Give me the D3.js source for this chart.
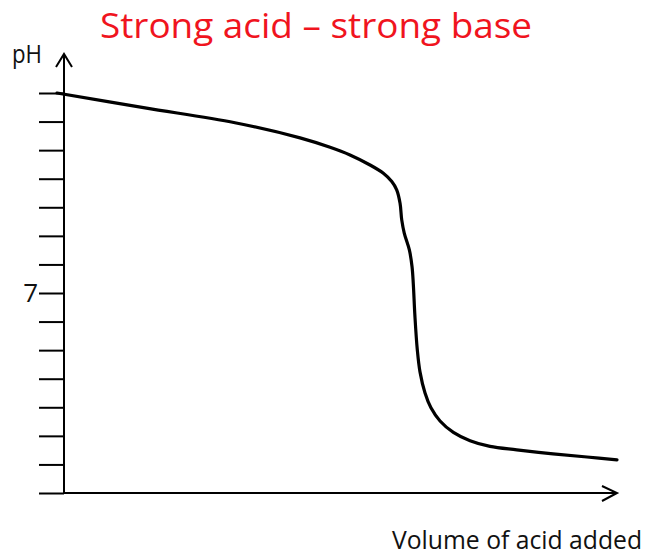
<!DOCTYPE html>
<html>
<head>
<meta charset="utf-8">
<script src="https://cdn.jsdelivr.net/npm/d3@7"></script>
<style>
  html, body { margin: 0; padding: 0; background: #fff; }
  text { font-family: "Open Sans", "Noto Sans", sans-serif; }
</style>
</head>
<body>
<div id="viz"><svg class="titration-svg"></svg></div>
<script>
'use strict'

// volume of acid added (arbitrary units) and the pH
const volumes = [0, 7.86, 15.89, 21.70, 24.38, 26.16, 27.95, 29.14, 29.89, 30.33, 30.63, 30.78, 31.01,
  31.46, 31.70, 31.81, 31.96, 32.17, 32.41, 32.86, 33.39, 34.20, 35.39, 36.88, 38.66, 41.05,
  44.29, 47.32, 50]
const phValues = [14.0, 13.48, 12.96, 12.43, 12.10, 11.83, 11.48, 11.19, 10.90, 10.61, 10.14, 9.56, 9.09,
  8.51, 7.92, 7.34, 6.17, 5.01, 4.24, 3.50, 2.98, 2.52, 2.12, 1.83, 1.63, 1.51,
  1.37, 1.26, 1.16]

// y ticks, one per pH unit, only 7 is labelled
const phTicks = d3.range(0, 15)
const labelledTicks = [7]

const titleText = 'Strong acid \u2013 strong base'
const yLabel = 'pH'
const xLabel = 'Volume of acid added'

/**
 * Draws a plain arrow head (two strokes) at the tip.
 */
function drawArrowHead (g, tipX, tipY, points) {
  g.append('path')
    .attr('d', d3.line()(points.map(p => [tipX + p[0], tipY + p[1]])))
    .attr('fill', 'none')
    .attr('stroke', '#000')
    .attr('stroke-width', 2)
}

(function (d3) {
  const width = 646
  const height = 556
  const axisX = 64

  const svg = d3.select('.titration-svg')
    .attr('width', width)
    .attr('height', height)

  const x = d3.scaleLinear().domain([0, 50]).range([57, 617])
  const y = d3.scaleLinear().domain([0, 14]).range([493, 93])

  // title
  svg.append('text')
    .attr('x', 316)
    .attr('y', 38)
    .attr('text-anchor', 'middle')
    .attr('font-size', '35px')
    .attr('fill', '#f0141e')
    .attr('textLength', 432)
    .attr('lengthAdjust', 'spacingAndGlyphs')
    .text(titleText)

  // y axis ticks through d3.axisLeft
  const yAxis = d3.axisLeft(y)
    .tickValues(phTicks)
    .tickSize(25)
    .tickPadding(1)
    .tickFormat(d => labelledTicks.includes(d) ? d : '')

  const gy = svg.append('g')
    .attr('transform', 'translate(' + axisX + ',0)')
    .call(yAxis)
  gy.select('.domain').remove()
  gy.selectAll('.tick line').attr('stroke', '#000').attr('stroke-width', 2)
  gy.selectAll('.tick text')
    .attr('font-size', '26px')
    .attr('fill', '#111')
    .attr('font-family', '"Open Sans", sans-serif')

  // axis lines with open arrow heads
  svg.append('line')
    .attr('x1', axisX).attr('y1', y(0))
    .attr('x2', axisX).attr('y2', 54)
    .attr('stroke', '#000').attr('stroke-width', 2)
  drawArrowHead(svg, axisX, 54, [[-8, 13], [0, 0], [8, 13]])

  svg.append('line')
    .attr('x1', axisX).attr('y1', y(0))
    .attr('x2', 617).attr('y2', y(0))
    .attr('stroke', '#000').attr('stroke-width', 2)
  drawArrowHead(svg, 617, y(0), [[-15, -7], [0, 0], [-15, 8]])

  // axis labels
  svg.append('text')
    .attr('x', 12)
    .attr('y', 63)
    .attr('font-size', '26px')
    .attr('fill', '#111')
    .attr('textLength', 30)
    .attr('lengthAdjust', 'spacingAndGlyphs')
    .text(yLabel)

  svg.append('text')
    .attr('x', 392)
    .attr('y', 549)
    .attr('font-size', '25px')
    .attr('fill', '#111')
    .attr('textLength', 250)
    .attr('lengthAdjust', 'spacingAndGlyphs')
    .text(xLabel)

  // titration curve
  const points = volumes.map((v, i) => [v, phValues[i]])
  const line = d3.line()
    .x(d => x(d[0]))
    .y(d => y(d[1]))
    .curve(d3.curveCatmullRom.alpha(0.5))

  svg.append('path')
    .datum(points)
    .attr('d', line)
    .attr('fill', 'none')
    .attr('stroke', '#000')
    .attr('stroke-width', 3.2)
    .attr('stroke-linecap', 'round')
})(d3)
</script>
</body>
</html>
